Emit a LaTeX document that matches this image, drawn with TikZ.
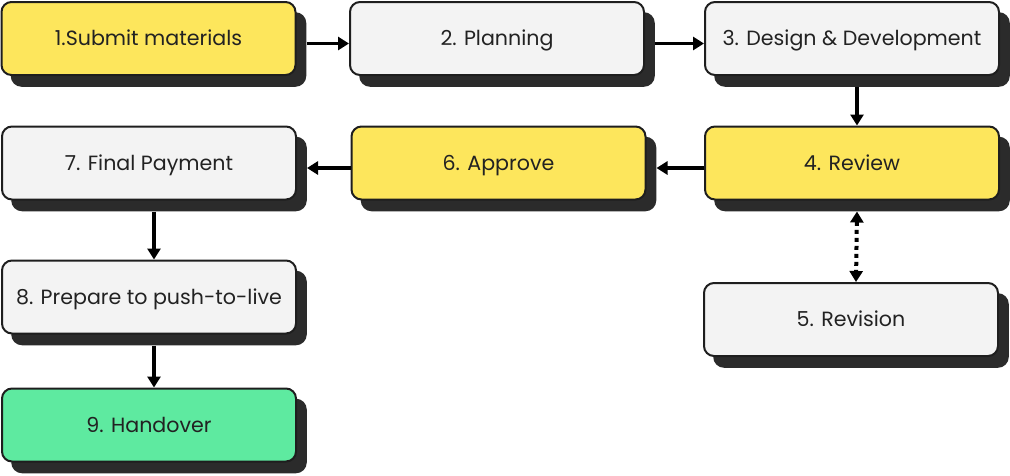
\documentclass[tikz,border=0pt]{standalone}
\usepackage{fontspec}
\setmainfont{Poppins}
\usetikzlibrary{arrows.meta,shadows}
\definecolor{yel}{HTML}{FDE65C}
\definecolor{gry}{HTML}{F3F3F3}
\definecolor{grn}{HTML}{5EEAA0}
\definecolor{shd}{HTML}{2B2B2B}
\definecolor{edge}{HTML}{1E1E1E}
\definecolor{txt}{HTML}{222222}
\begin{document}
\begin{tikzpicture}[x=1pt,y=-1pt,
  box/.style={draw=edge, line width=2pt, rounded corners=10pt,
    minimum width=294pt, minimum height=73pt, inner sep=0pt,
    text height=14.5pt, text depth=0pt,
    text=txt, font=\fontsize{20.6}{24}\selectfont,
    copy shadow={shadow xshift=10pt, shadow yshift=-11pt, fill=shd, draw=shd, line width=1.5pt}},
  yelbox/.style={box, fill=yel},
  grybox/.style={box, fill=gry},
  grnbox/.style={box, fill=grn},
  arr/.style={line width=3.2pt, -{Triangle[length=11pt,width=13pt]}, black},
  darr/.style={line width=4pt, dash pattern=on 4pt off 4pt, {Triangle[length=11pt,width=13pt]}-{Triangle[length=11pt,width=13pt]}, black}
]
\useasboundingbox (0,0) rectangle (1010,475);
\node[yelbox] (n1) at (148.5,38.5) {1.Submit materials};
\node[grybox] (n2) at (497,38.5) {2. Planning};
\node[grybox] (n3) at (852,38.5) {3. Design \& Development};
\node[yelbox] (n4) at (852,163) {4. Review};
\node[grybox] (n5) at (851,319.5) {5. Revision};
\node[yelbox] (n6) at (498.5,163) {6. Approve};
\node[grybox] (n7) at (149,163) {7. Final Payment};
\node[grybox] (n8) at (149,297) {8. Prepare to push-to-live};
\node[grnbox] (n9) at (149,425) {9. Handover};
\draw[arr] ([xshift=10pt,yshift=-5pt]n1.east) -- ([yshift=-5pt]n2.west);
\draw[arr] ([xshift=10pt,yshift=-5pt]n2.east) -- ([yshift=-5pt]n3.west);
\draw[arr] ([xshift=5pt,yshift=-11pt]n3.south) -- ([xshift=5pt]n4.north);
\draw[arr] ([yshift=-5pt]n4.west) -- ([xshift=10pt,yshift=-5pt]n6.east);
\draw[arr] ([yshift=-5pt]n6.west) -- ([xshift=10pt,yshift=-5pt]n7.east);
\draw[arr] ([xshift=5pt,yshift=-11pt]n7.south) -- ([xshift=5pt]n8.north);
\draw[arr] ([xshift=5pt,yshift=-11pt]n8.south) -- ([xshift=5pt]n9.north);
\draw[darr] ([xshift=5pt,yshift=-11pt]n4.south) -- ([xshift=5pt]n5.north);
\end{tikzpicture}
\end{document}
